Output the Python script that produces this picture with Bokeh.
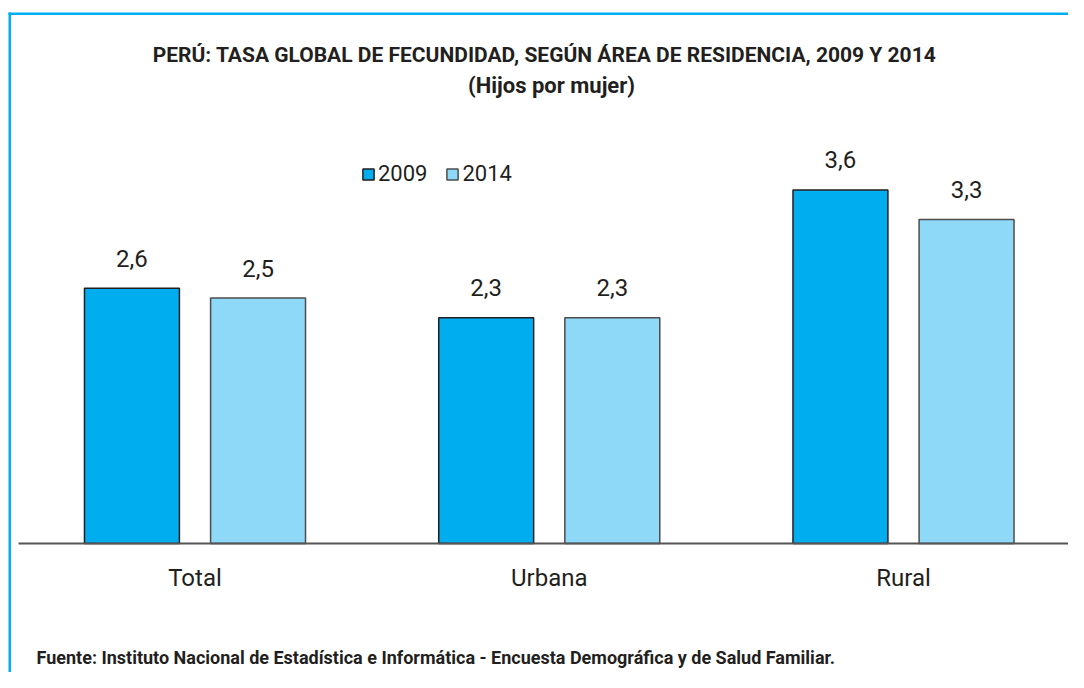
from bokeh.plotting import figure
from bokeh.models import Range1d, Label, Legend, LegendItem, BoxAnnotation, ColumnDataSource, FixedTicker
from bokeh.core.properties import value
from bokeh.embed import file_html
from bokeh.resources import INLINE

# ---- data ----
categories = ["Total", "Urbana", "Rural"]
years = ["2009", "2014"]
tgf_2009 = [2.6, 2.3, 3.6]
tgf_2014 = [2.5, 2.3, 3.3]
title_line1 = "PERÚ: TASA GLOBAL DE FECUNDIDAD, SEGÚN ÁREA DE RESIDENCIA, 2009 Y 2014"
title_line2 = "(Hijos por mujer)"
source_note = "Fuente: Instituto Nacional de Estadística e Informática - Encuesta Demográfica y de  Salud Familiar."

FONT = "Roboto"
TXT = "#231F20"
C09 = "#00AEEF"
C14 = "#8ED8F8"
CYAN = "#00AEEF"

W, H = 1068, 672
# layout: pixel geometry of the canvas
X0_PX, X_UNIT = 194.5, 354.25      # centre of first group, px per category
Y0_PX, Y_UNIT = 543.0, 98.2        # baseline, px per child


def xdata(px):
    return (px - X0_PX) / X_UNIT


def ydata(py):
    return (Y0_PX - py) / Y_UNIT


def fmt(v):
    return f"{v:.1f}".replace(".", ",")


idx = list(range(len(categories)))
off = 0.178
bw = 0.268

src = ColumnDataSource(dict(
    x09=[i - off for i in idx],
    x14=[i + off for i in idx],
    v09=tgf_2009,
    v14=tgf_2014,
    l09=[fmt(v) for v in tgf_2009],
    l14=[fmt(v) for v in tgf_2014],
))

p = figure(
    x_range=Range1d(xdata(0), xdata(W)),
    y_range=Range1d(ydata(H), ydata(0)),
    width=W, height=H,
    output_backend="svg", toolbar_location=None,
    y_axis_location=None,
    min_border=0, min_border_left=0, min_border_right=0, min_border_top=0, min_border_bottom=0,
)
p.outline_line_color = None
p.xgrid.visible = False
p.ygrid.visible = False
p.background_fill_color = "white"
p.border_fill_color = "white"

r09 = p.vbar(x="x09", top="v09", width=bw, source=src,
             fill_color=C09, line_color="#231F20", line_width=1.5)
r14 = p.vbar(x="x14", top="v14", width=bw, source=src,
             fill_color=C14, line_color="#4d4d4d", line_width=1.5)

for xc, col, lab in (("x09", "v09", "l09"), ("x14", "v14", "l14")):
    p.text(x=xc, y=col, text=lab, source=src,
           text_align="center", text_baseline="alphabetic", y_offset=-30,
           text_font=value(FONT), text_font_size="24px", text_color=TXT)

legend = Legend(
    items=[LegendItem(label=years[0], renderers=[r09]), LegendItem(label=years[1], renderers=[r14])],
    orientation="horizontal", location=(361, H - 186),
    glyph_width=14, glyph_height=14, label_standoff=3, spacing=18,
    padding=0, margin=0, border_line_color=None, background_fill_alpha=0,
    label_text_font=FONT, label_text_font_size="22px", label_text_color=TXT,
)
p.add_layout(legend)

ax = p.xaxis[0]
ax.fixed_location = 0
ax.bounds = (xdata(18), xdata(1080))
ax.ticker = FixedTicker(ticks=idx)
ax.major_label_overrides = {i: c for i, c in zip(idx, categories)}
ax.axis_line_color = "#555555"
ax.axis_line_width = 2
ax.major_tick_line_color = None
ax.minor_tick_line_color = None
ax.major_tick_out = 0
ax.major_tick_in = 0
ax.major_label_standoff = 20
ax.major_label_text_font = FONT
ax.major_label_text_font_size = "24px"
ax.major_label_text_color = TXT

p.add_layout(Label(x=xdata(544), y=ydata(54.5), text=title_line1, text_align="center", text_baseline="alphabetic",
                   text_font=FONT, text_font_size="21px", text_font_style="bold", text_color=TXT))
p.add_layout(Label(x=xdata(551), y=ydata(85), text=title_line2, text_align="center", text_baseline="alphabetic",
                   text_font=FONT, text_font_size="22px", text_font_style="bold", text_color=TXT))
p.add_layout(Label(x=xdata(36), y=ydata(656.5), text=source_note, text_align="left", text_baseline="alphabetic",
                   text_font=FONT, text_font_size="18px", text_font_style="bold", text_color=TXT))

# cyan frame (left and top edges)
p.add_layout(BoxAnnotation(left=xdata(8), right=xdata(10.5), bottom=ydata(H + 20), top=ydata(12),
                           fill_color=CYAN, fill_alpha=1, line_color=None))
p.add_layout(BoxAnnotation(left=xdata(8), right=xdata(W + 20), bottom=ydata(14.5), top=ydata(12),
                           fill_color=CYAN, fill_alpha=1, line_color=None))

open("out.html", "w").write(file_html(p, INLINE))
